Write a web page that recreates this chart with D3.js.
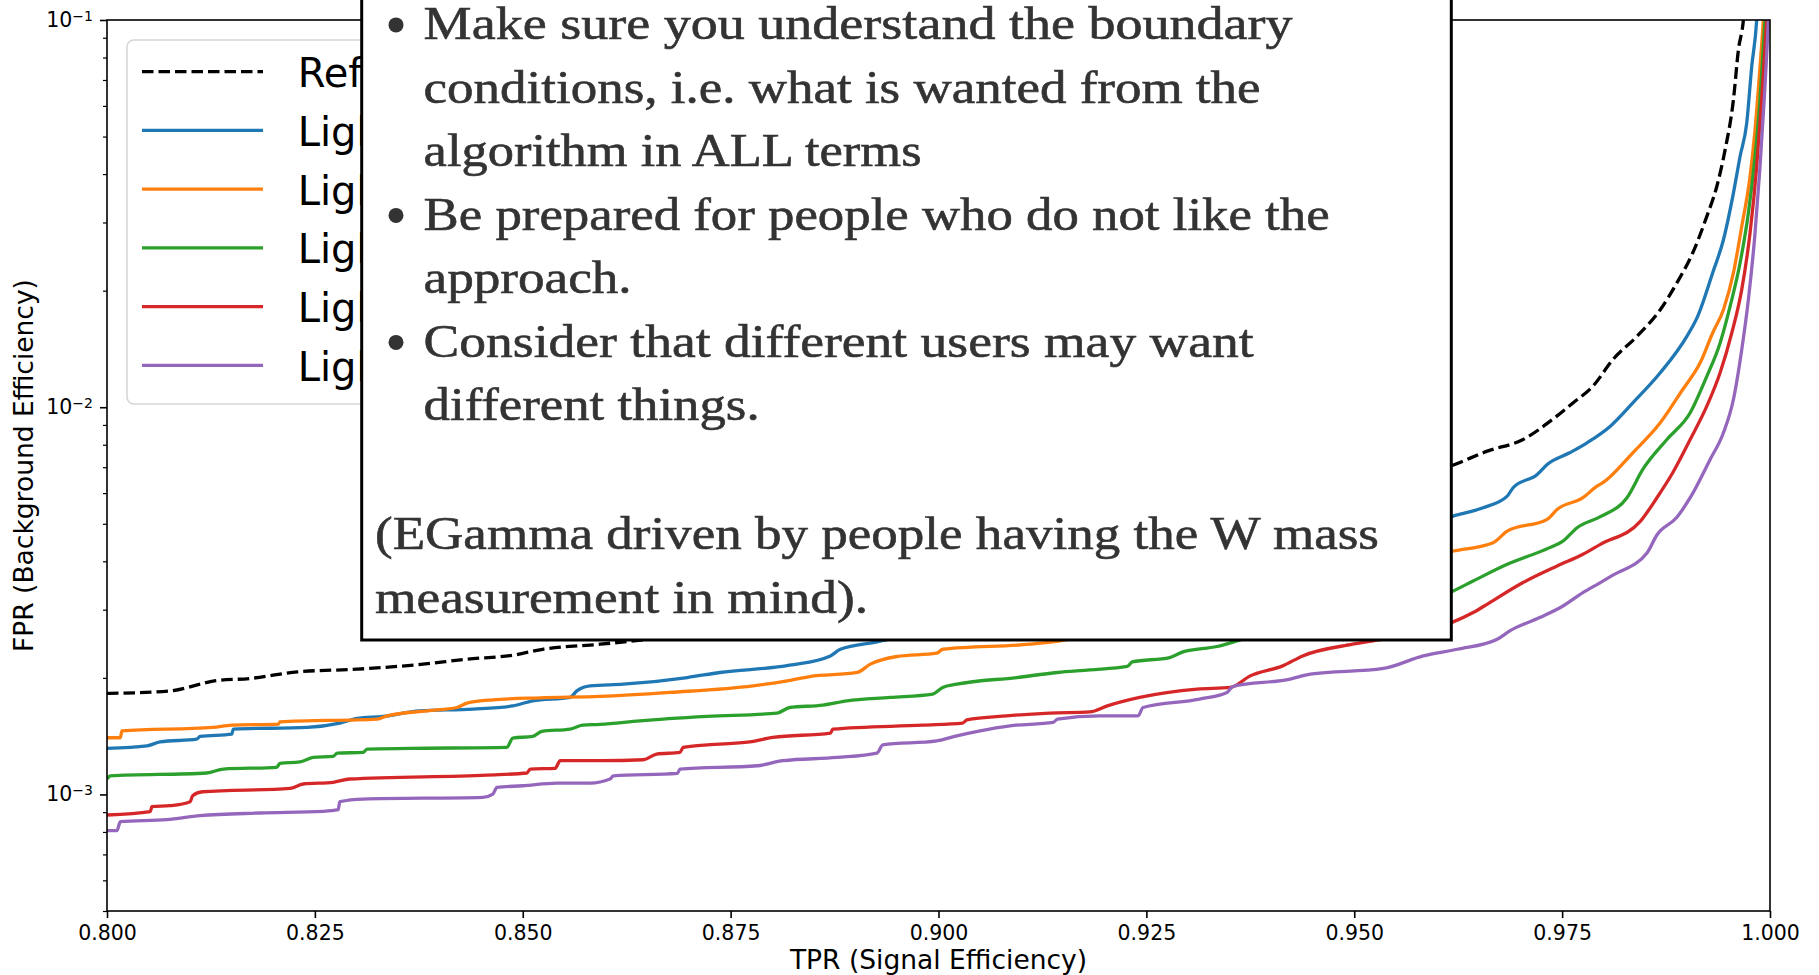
<!DOCTYPE html>
<meta charset="utf-8">
<style>
  body { margin: 0; background: #fff; }
  svg { display: block; }
  text { font-family: "DejaVu Sans", sans-serif; fill: #000; }
  .note text { font-family: "Liberation Serif", serif; fill: #333; stroke: #333; stroke-width: 0.6; }
</style>
<body>
<script src="https://d3js.org/d3.v7.min.js"></script>
<script>
// ROC curves: [TPR, FPR]
var refCurve = [[0.8000,1.823e-3],[0.8076,1.851e-3],[0.8112,1.926e-3],[0.8129,1.965e-3],[0.8172,1.993e-3],[0.8229,2.073e-3],[0.8301,2.106e-3],[0.8380,2.170e-3],[0.8433,2.235e-3],[0.8488,2.288e-3],[0.8524,2.371e-3],[0.8593,2.443e-3],[0.8713,2.608e-3],[0.8833,2.818e-3],[0.8954,3.080e-3],[0.9074,3.407e-3],[0.9194,3.837e-3],[0.9314,4.399e-3],[0.9435,5.194e-3],[0.9555,6.318e-3],[0.9624,7.159e-3],[0.9660,7.700e-3],[0.9703,8.254e-3],[0.9739,9.318e-3],[0.9763,1.026e-2],[0.9787,1.133e-2],[0.9811,1.327e-2],[0.9840,1.524e-2],[0.9868,1.786e-2],[0.9888,2.094e-2],[0.9907,2.502e-2],[0.9924,3.110e-2],[0.9936,3.715e-2],[0.9946,4.620e-2],[0.9956,6.218e-2],[0.9962,8.369e-2],[0.9968,0.1],[0.9971,0.12]];

var lgbBlue = [[0.8000,1.315e-3],[0.8048,1.335e-3],[0.8064,1.367e-3],[0.8108,1.389e-3],[0.8112,1.412e-3],[0.8150,1.431e-3],[0.8152,1.475e-3],[0.8241,1.490e-3],[0.8280,1.528e-3],[0.8301,1.571e-3],[0.8332,1.590e-3],[0.8376,1.644e-3],[0.8440,1.661e-3],[0.8488,1.693e-3],[0.8512,1.745e-3],[0.8557,1.780e-3],[0.8565,1.851e-3],[0.8581,1.907e-3],[0.8621,1.926e-3],[0.8698,2.004e-3],[0.8737,2.065e-3],[0.8821,2.157e-3],[0.8870,2.279e-3],[0.8882,2.371e-3],[0.8926,2.477e-3],[0.9074,2.902e-3],[0.9194,3.249e-3],[0.9314,3.638e-3],[0.9435,4.145e-3],[0.9555,4.779e-3],[0.9619,5.235e-3],[0.9655,5.501e-3],[0.9684,5.893e-3],[0.9691,6.195e-3],[0.9720,6.706e-3],[0.9732,7.116e-3],[0.9759,7.627e-3],[0.9780,8.094e-3],[0.9808,8.933e-3],[0.9835,1.026e-2],[0.9868,1.227e-2],[0.9900,1.524e-2],[0.9913,1.717e-2],[0.9931,2.222e-2],[0.9944,2.707e-2],[0.9956,3.573e-2],[0.9964,4.440e-2],[0.9972,5.415e-2],[0.9978,7.577e-2],[0.9984,0.1],[0.9986,0.12]];

var lgbOrange = [[0.8000,1.401e-3],[0.8016,1.401e-3],[0.8018,1.460e-3],[0.8127,1.490e-3],[0.8150,1.510e-3],[0.8206,1.519e-3],[0.8208,1.540e-3],[0.8325,1.565e-3],[0.8337,1.596e-3],[0.8385,1.644e-3],[0.8421,1.677e-3],[0.8433,1.721e-3],[0.8464,1.755e-3],[0.8521,1.776e-3],[0.8593,1.791e-3],[0.8677,1.834e-3],[0.8777,1.907e-3],[0.8818,1.965e-3],[0.8845,2.016e-3],[0.8902,2.065e-3],[0.8918,2.170e-3],[0.8950,2.271e-3],[0.8998,2.316e-3],[0.9005,2.371e-3],[0.9110,2.443e-3],[0.9137,2.477e-3],[0.9254,2.802e-3],[0.9375,3.230e-3],[0.9495,3.703e-3],[0.9619,4.253e-3],[0.9667,4.469e-3],[0.9684,4.788e-3],[0.9732,5.132e-3],[0.9744,5.446e-3],[0.9775,5.838e-3],[0.9792,6.254e-3],[0.9799,6.383e-3],[0.9835,7.627e-3],[0.9868,9.117e-3],[0.9895,1.111e-2],[0.9916,1.302e-2],[0.9931,1.555e-2],[0.9944,1.786e-2],[0.9956,2.222e-2],[0.9966,2.930e-2],[0.9976,3.943e-2],[0.9982,5.204e-2],[0.9988,7.577e-2],[0.9992,0.1],[0.9994,0.12]];

var lgbGreen = [[0.8000,1.096e-3],[0.8004,1.117e-3],[0.8120,1.136e-3],[0.8140,1.163e-3],[0.8204,1.175e-3],[0.8208,1.203e-3],[0.8232,1.214e-3],[0.8248,1.246e-3],[0.8272,1.254e-3],[0.8277,1.279e-3],[0.8308,1.284e-3],[0.8313,1.310e-3],[0.8364,1.315e-3],[0.8481,1.323e-3],[0.8488,1.398e-3],[0.8512,1.412e-3],[0.8523,1.455e-3],[0.8557,1.475e-3],[0.8572,1.510e-3],[0.8593,1.516e-3],[0.8641,1.549e-3],[0.8722,1.590e-3],[0.8806,1.622e-3],[0.8821,1.677e-3],[0.8861,1.701e-3],[0.8890,1.745e-3],[0.8942,1.780e-3],[0.8993,1.816e-3],[0.9005,1.889e-3],[0.9022,1.926e-3],[0.9094,2.004e-3],[0.9143,2.065e-3],[0.9182,2.097e-3],[0.9227,2.140e-3],[0.9233,2.199e-3],[0.9278,2.257e-3],[0.9294,2.334e-3],[0.9335,2.410e-3],[0.9366,2.517e-3],[0.9495,2.920e-3],[0.9619,3.353e-3],[0.9643,3.558e-3],[0.9684,3.929e-3],[0.9735,4.339e-3],[0.9751,4.512e-3],[0.9768,4.885e-3],[0.9796,5.216e-3],[0.9828,5.838e-3],[0.9847,6.908e-3],[0.9876,8.254e-3],[0.9904,9.674e-3],[0.9924,1.202e-2],[0.9940,1.466e-2],[0.9952,1.822e-2],[0.9964,2.357e-2],[0.9974,3.173e-2],[0.9982,4.440e-2],[0.9988,6.218e-2],[0.9994,0.1],[0.9996,0.12]];

var lgbRed = [[0.8000,8.849e-4],[0.8052,9.024e-4],[0.8054,9.296e-4],[0.8076,9.352e-4],[0.8100,9.577e-4],[0.8103,9.922e-4],[0.8115,1.016e-3],[0.8220,1.037e-3],[0.8236,1.064e-3],[0.8272,1.075e-3],[0.8292,1.096e-3],[0.8457,1.122e-3],[0.8505,1.136e-3],[0.8509,1.163e-3],[0.8539,1.168e-3],[0.8545,1.222e-3],[0.8593,1.222e-3],[0.8645,1.229e-3],[0.8661,1.271e-3],[0.8689,1.284e-3],[0.8693,1.323e-3],[0.8722,1.343e-3],[0.8773,1.367e-3],[0.8801,1.404e-3],[0.8870,1.440e-3],[0.8873,1.475e-3],[0.8981,1.510e-3],[0.9029,1.528e-3],[0.9034,1.558e-3],[0.9082,1.596e-3],[0.9134,1.622e-3],[0.9182,1.634e-3],[0.9203,1.693e-3],[0.9242,1.780e-3],[0.9311,1.870e-3],[0.9351,1.889e-3],[0.9375,2.024e-3],[0.9414,2.148e-3],[0.9438,2.279e-3],[0.9498,2.443e-3],[0.9535,2.517e-3],[0.9579,2.639e-3],[0.9619,2.790e-3],[0.9643,2.949e-3],[0.9663,3.130e-3],[0.9703,3.525e-3],[0.9744,3.890e-3],[0.9775,4.170e-3],[0.9796,4.425e-3],[0.9844,5.072e-3],[0.9864,5.838e-3],[0.9883,6.773e-3],[0.9904,8.254e-3],[0.9924,1.006e-2],[0.9940,1.227e-2],[0.9954,1.555e-2],[0.9966,2.012e-2],[0.9976,2.818e-2],[0.9984,4.184e-2],[0.9990,6.218e-2],[0.9996,0.1],[0.9998,0.12]];

var lgbPurple = [[0.8000,8.060e-4],[0.8012,8.060e-4],[0.8016,8.502e-4],[0.8072,8.604e-4],[0.8112,8.813e-4],[0.8184,8.954e-4],[0.8260,9.045e-4],[0.8278,9.133e-4],[0.8280,9.577e-4],[0.8308,9.730e-4],[0.8452,9.829e-4],[0.8464,1.002e-3],[0.8469,1.043e-3],[0.8500,1.053e-3],[0.8541,1.070e-3],[0.8581,1.070e-3],[0.8605,1.096e-3],[0.8609,1.117e-3],[0.8686,1.133e-3],[0.8689,1.163e-3],[0.8782,1.186e-3],[0.8813,1.222e-3],[0.8878,1.246e-3],[0.8926,1.279e-3],[0.8933,1.343e-3],[0.8998,1.375e-3],[0.9022,1.417e-3],[0.9050,1.460e-3],[0.9086,1.504e-3],[0.9138,1.535e-3],[0.9143,1.565e-3],[0.9194,1.596e-3],[0.9240,1.596e-3],[0.9246,1.677e-3],[0.9314,1.763e-3],[0.9347,1.834e-3],[0.9354,1.900e-3],[0.9423,1.985e-3],[0.9447,2.045e-3],[0.9535,2.115e-3],[0.9583,2.279e-3],[0.9624,2.371e-3],[0.9672,2.517e-3],[0.9687,2.644e-3],[0.9723,2.862e-3],[0.9751,3.067e-3],[0.9775,3.322e-3],[0.9796,3.525e-3],[0.9811,3.684e-3],[0.9852,4.204e-3],[0.9864,4.677e-3],[0.9888,5.198e-3],[0.9904,5.838e-3],[0.9928,7.331e-3],[0.9944,8.590e-3],[0.9956,1.047e-2],[0.9966,1.408e-2],[0.9974,1.896e-2],[0.9982,2.818e-2],[0.9988,4.184e-2],[0.9993,6.218e-2],[0.9998,0.1],[0.99995,0.12]];

var seriesNames = ["Reference", "LightGBM 1", "LightGBM 2", "LightGBM 3", "LightGBM 4", "LightGBM 5"];
var seriesData = [refCurve, lgbBlue, lgbOrange, lgbGreen, lgbRed, lgbPurple];
var seriesColors = ["#000000", "#1f77b4", "#ff7f0e", "#2ca02c", "#d62728", "#9467bd"];

var xTicks = [0.800, 0.825, 0.850, 0.875, 0.900, 0.925, 0.950, 0.975, 1.000];
var yTicks = [1e-3, 1e-2, 1e-1];
var yDomain = [5e-4, 0.1];

var noteBullets = [
  ["Make sure you understand the boundary", "conditions, i.e. what is wanted from the", "algorithm in ALL terms"],
  ["Be prepared for people who do not like the", "approach."],
  ["Consider that different users may want", "different things."]
];
var noteFooter = ["(EGamma driven by people having the W mass", "measurement in mind)."];

var width = 1819, height = 975;
var plotL = 107, plotR = 1770, plotT = 20, plotB = 911;

var svg = d3.select("body").append("svg")
  .attr("width", width)
  .attr("height", height);

svg.append("rect").attr("width", width).attr("height", height).attr("fill", "#fff");

var x = d3.scaleLinear().domain([0.8, 1.0]).range([plotL, plotR]);
var y = d3.scaleLog().domain(yDomain).range([plotB, plotT]);

svg.append("clipPath").attr("id", "plotclip")
  .append("rect")
  .attr("x", plotL).attr("y", plotT)
  .attr("width", plotR - plotL).attr("height", plotB - plotT);

var line = d3.line()
  .curve(d3.curveMonotoneX)
  .x(function(d) { return x(d[0]); })
  .y(function(d) { return y(d[1]); });

var curves = svg.append("g").attr("clip-path", "url(#plotclip)");
seriesData.forEach(function(data, i) {
  curves.append("path")
    .datum(data)
    .attr("d", line)
    .attr("fill", "none")
    .attr("stroke", seriesColors[i])
    .attr("stroke-width", 3.3)
    .attr("stroke-linejoin", "round")
    .attr("stroke-dasharray", i == 0 ? "11.5,5" : null);
});

// axes
var xAxis = d3.axisBottom(x)
  .tickValues(xTicks)
  .tickFormat(d3.format(".3f"))
  .tickSize(7).tickPadding(7);

var gx = svg.append("g")
  .attr("transform", "translate(0," + plotB + ")")
  .call(xAxis);
gx.select(".domain").remove();
gx.selectAll("line").attr("stroke", "#000").attr("stroke-width", 1.6);
gx.selectAll("text").attr("font-size", 20.5).attr("font-family", "DejaVu Sans");

var minor = [];
[1e-4, 1e-3, 1e-2].forEach(function(p) {
  for (var k = 2; k <= 9; k++) {
    var v = k * p;
    if (v >= yDomain[0] - 1e-12 && v <= yDomain[1]) minor.push(v);
  }
});

var gyMinor = svg.append("g")
  .attr("transform", "translate(" + plotL + ",0)")
  .call(d3.axisLeft(y).tickValues(minor).tickFormat("").tickSize(4));
gyMinor.select(".domain").remove();
gyMinor.selectAll("line").attr("stroke", "#000").attr("stroke-width", 1.2);

var gy = svg.append("g")
  .attr("transform", "translate(" + plotL + ",0)")
  .call(d3.axisLeft(y).tickValues(yTicks).tickSize(7).tickPadding(7));
gy.select(".domain").remove();
gy.selectAll("line").attr("stroke", "#000").attr("stroke-width", 1.6);
gy.selectAll(".tick text").each(function(d) {
  var t = d3.select(this).text(null).attr("font-size", 20.5).attr("font-family", "DejaVu Sans");
  t.append("tspan").text("10");
  t.append("tspan").attr("font-size", 14).attr("dy", -6.5)
    .text("\u2212" + Math.round(-Math.log10(d)));
});

// spines
svg.append("rect")
  .attr("x", plotL).attr("y", plotT)
  .attr("width", plotR - plotL).attr("height", plotB - plotT)
  .attr("fill", "none")
  .attr("stroke", "#000")
  .attr("stroke-width", 1.6);

svg.append("text")
  .attr("x", (plotL + plotR) / 2).attr("y", 969)
  .attr("text-anchor", "middle")
  .attr("font-size", 26.5)
  .text("TPR (Signal Efficiency)");

svg.append("text")
  .attr("transform", "translate(33," + (plotT + plotB) / 2 + ") rotate(-90)")
  .attr("text-anchor", "middle")
  .attr("font-size", 26.5)
  .text("FPR (Background Efficiency)");

// legend
var legend = svg.append("g");
legend.append("rect")
  .attr("x", 127).attr("y", 40)
  .attr("width", 560).attr("height", 364)
  .attr("rx", 7)
  .attr("fill", "#fff").attr("fill-opacity", 0.8)
  .attr("stroke", "#ccc").attr("stroke-opacity", 0.8)
  .attr("stroke-width", 1.6);

seriesNames.forEach(function(name, i) {
  var ry = 71.7 + i * 58.75;
  legend.append("line")
    .attr("x1", 142).attr("x2", 263)
    .attr("y1", ry).attr("y2", ry)
    .attr("stroke", seriesColors[i])
    .attr("stroke-width", 3.3)
    .attr("stroke-dasharray", i == 0 ? "11.5,5" : null);
  legend.append("text")
    .attr("x", 297.7).attr("y", ry + 15.4)
    .attr("font-size", 40)
    .text(name);
});

// note box pasted over the plot
var note = svg.append("g").attr("class", "note");
note.append("rect")
  .attr("x", 361.7).attr("y", -10)
  .attr("width", 1089.6).attr("height", 650)
  .attr("fill", "#fff")
  .attr("stroke", "#000")
  .attr("stroke-width", 3);

var lineStep = 63.5;
var bulletWidths = [[869, 837, 498], [906, 208], [830, 336]];
var footWidths = [1004, 493];
var row = 0;
noteBullets.forEach(function(lines, b) {
  lines.forEach(function(txt, j) {
    var by = 39.4 + row * lineStep;
    if (j == 0) {
      note.append("circle")
        .attr("cx", 396).attr("cy", by - 14.5)
        .attr("r", 7.5)
        .attr("fill", "#333");
    }
    note.append("text")
      .attr("x", 423.6).attr("y", by)
      .attr("font-size", 47)
      .attr("textLength", bulletWidths[b][j])
      .attr("lengthAdjust", "spacingAndGlyphs")
      .text(txt);
    row++;
  });
});
noteFooter.forEach(function(txt, j) {
  note.append("text")
    .attr("x", 375).attr("y", 549.3 + j * lineStep)
    .attr("font-size", 47)
    .attr("textLength", footWidths[j])
    .attr("lengthAdjust", "spacingAndGlyphs")
    .text(txt);
});
</script>
